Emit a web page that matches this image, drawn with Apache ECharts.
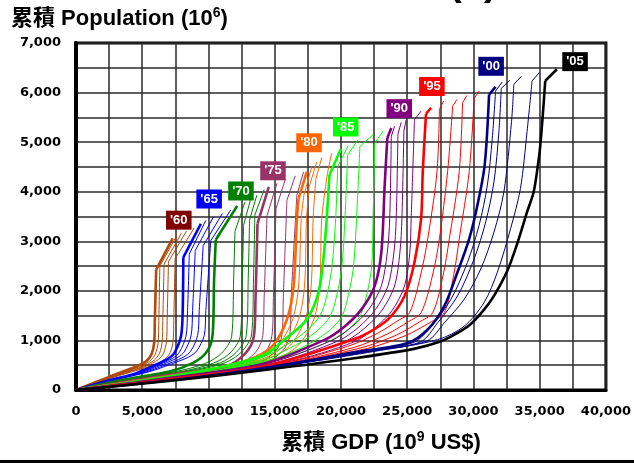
<!DOCTYPE html>
<html>
<head>
<meta charset="utf-8">
<style>
  html, body { margin: 0; padding: 0; background: #fff; }
  #chart { width: 634px; height: 464px; }
</style>
<script src="https://cdn.jsdelivr.net/npm/echarts@6/dist/echarts.min.js"></script>
</head>
<body>
<div id="chart"></div>
<script>
// Cumulative GDP (10^9 US$) vs cumulative population (10^6), one curve per year.
const c1960 = [[0,0],[2500,265],[4500,470],[5300,580],[5700,720],[5900,950],[5950,1400],[6050,2430],[7300,3060]];
const c1961 = [[0,0],[2500,250],[4800,470],[5600,590],[6000,730],[6200,960],[6250,1400],[6330,2500],[7600,3110]];
const c1962 = [[0,0],[2500,240],[5000,470],[5900,600],[6300,740],[6500,960],[6550,1400],[6650,2540],[7950,3160]];
const c1963 = [[0,0],[2500,235],[5300,480],[6200,610],[6620,750],[6830,980],[6880,1400],[6980,2590],[8350,3210]];
const c1964 = [[0,0],[2500,230],[5700,490],[6700,620],[7120,760],[7330,990],[7380,1400],[7480,2650],[8925,3270]];

const c1965 = [[0,0],[2500,195],[4550,340],[6300,543],[7000,640],[7425,746],[7925,1084],[8050,1559],[8100,2677],[9425,3354]];
const c1966 = [[0,0],[2500,190],[4800,350],[6600,550],[7350,650],[7800,760],[8300,1084],[8420,1600],[8550,2745],[9800,3422]];
const c1967 = [[0,0],[2500,185],[5000,355],[6900,555],[7700,660],[8170,770],[8680,1090],[8800,1600],[9000,2812],[10370,3490]];
const c1968 = [[0,0],[2500,180],[5300,365],[7300,565],[8150,670],[8650,780],[9180,1100],[9300,1600],[9600,2913],[11050,3560]];
const c1969 = [[0,0],[2500,175],[5600,375],[7700,575],[8600,680],[9120,790],[9680,1100],[9800,1600],[10175,3015],[11675,3630]];

const c1970 = [[0,0],[3500,205],[7050,372],[8800,543],[9800,746],[10300,1084],[10425,2236],[10550,3030],[12170,3714]];
const c1971 = [[0,0],[3500,200],[7500,370],[9800,540],[11000,746],[11750,1084],[11900,2236],[12000,3200],[12750,3795]];
const c1972 = [[0,0],[3500,195],[8000,375],[10400,545],[11650,750],[12400,1090],[12550,2240],[12650,3330],[13175,3840]];
const c1973 = [[0,0],[3500,190],[8400,380],[10900,550],[12100,760],[12850,1100],[13000,2250],[13100,3430],[13650,3930]];
const c1974 = [[0,0],[3500,185],[8800,385],[11300,555],[12500,770],[13250,1110],[13400,2260],[13500,3530],[14200,4040]];

const c1975 = [[0,0],[4000,180],[8000,340],[11300,474],[12800,746],[13425,1084],[13550,1830],[13700,3354],[14550,4100]];
const c1976 = [[0,0],[4000,176],[8500,345],[12000,480],[13550,760],[14100,1100],[14200,1850],[14420,3523],[15170,4168]];
const c1977 = [[0,0],[4000,172],[9000,350],[12700,490],[14300,770],[14800,1110],[14900,1870],[15100,3660],[15800,4250]];
const c1978 = [[0,0],[4000,168],[9500,355],[13400,500],[15050,780],[15550,1120],[15650,1890],[15920,3828],[16550,4320]];
const c1979 = [[0,0],[4000,164],[10000,360],[14000,510],[15600,790],[16150,1130],[16250,1900],[16670,3930],[17175,4400]];

const c1980 = [[0,0],[5000,200],[10000,410],[13050,610],[14800,880],[15920,1423],[16425,2100],[16675,3456],[16800,3863],[17420,4405]];
const c1981 = [[0,0],[5000,195],[10000,400],[13500,610],[15200,880],[16350,1423],[16800,2100],[17000,3456],[17200,3930],[17800,4507]];
const c1982 = [[0,0],[5000,190],[10000,395],[13900,610],[15650,880],[16800,1423],[17250,2100],[17400,3456],[17600,4100],[18170,4600]];
const c1983 = [[0,0],[5000,185],[10000,390],[14300,610],[16100,880],[17300,1423],[17750,2100],[17900,3456],[18100,4250],[18550,4690]];
const c1984 = [[0,0],[5000,180],[10000,385],[14800,610],[16700,880],[17950,1423],[18400,2100],[18550,3456],[19000,4400],[19300,4780]];

const c1985 = [[0,0],[5000,190],[10000,410],[13000,600],[14550,760],[16050,1084],[17420,1423],[18300,1966],[18675,2643],[18925,3456],[19130,4337],[20000,4865]];
const c1986 = [[0,0],[5000,185],[10000,400],[13500,600],[15500,850],[17200,1150],[18300,1450],[18800,1763],[19300,2440],[19600,3456],[19750,4507],[20550,4933]];
const c1987 = [[0,0],[5000,180],[10000,390],[14000,600],[16200,850],[18000,1150],[19100,1450],[19550,1763],[20050,2440],[20300,3456],[20500,4743],[21300,5050]];
const c1988 = [[0,0],[5000,175],[10000,380],[14500,600],[17000,850],[18900,1150],[20000,1450],[20425,1763],[20925,2440],[21175,3456],[21430,4914],[22425,5150]];
const c1989 = [[0,0],[5000,170],[10000,370],[15000,600],[18000,850],[20200,1150],[21350,1450],[21800,1763],[22300,2440],[22425,3456],[22550,4981],[23175,5220]];

const c1990 = [[0,0],[7000,240],[14000,520],[18800,1017],[20300,1287],[21550,1626],[22550,2100],[23050,2779],[23300,4133],[23500,5083],[23800,5286]];
const c1991 = [[0,0],[7000,235],[14500,540],[19300,1000],[20800,1270],[22100,1626],[23050,2100],[23500,2780],[23680,3456],[23800,5117],[24050,5320]];
const c1992 = [[0,0],[7000,230],[15000,550],[19800,990],[21300,1260],[22600,1620],[23550,2100],[24000,2780],[24170,3456],[24300,5164],[24550,5400]];
const c1993 = [[0,0],[7000,225],[15500,560],[20300,980],[21800,1250],[23100,1610],[24050,2100],[24450,2780],[24600,3456],[24750,5219],[24920,5450]];
const c1994 = [[0,0],[7000,220],[16000,570],[21000,970],[22500,1240],[23850,1600],[24800,2100],[25200,2780],[25300,3456],[25550,5455],[26050,5625]];

const c1995 = [[0,0],[7000,215],[14550,500],[20550,982],[22050,1153],[23550,1423],[24800,1897],[25550,2576],[26050,3456],[26175,4405],[26420,5570],[26800,5693]];
const c1996 = [[0,0],[7000,210],[15000,500],[20500,880],[22800,1150],[24300,1400],[25180,1560],[26000,2300],[26550,3050],[27250,4405],[27430,5660],[27750,5830]];
const c1997 = [[0,0],[7000,205],[15000,490],[21000,860],[23500,1130],[25100,1380],[26050,1560],[26900,2300],[27430,3050],[28050,4405],[28430,5727],[28750,5860]];
const c1998 = [[0,0],[7000,200],[15000,480],[21500,850],[24200,1110],[25900,1370],[26925,1560],[27700,2300],[28180,3050],[28925,4405],[29180,5794],[29500,5940]];
const c1999 = [[0,0],[7000,195],[15000,470],[22000,840],[24900,1100],[26700,1360],[27800,1560],[28500,2300],[28930,3050],[29680,4405],[30050,5880],[30430,6030]];

const c2000 = [[0,0],[7000,190],[14550,460],[21000,760],[25050,950],[26550,1220],[27800,1693],[28800,2380],[29680,3050],[30300,3727],[30850,4540],[31180,5960],[31670,6113]];
const c2001 = [[0,0],[7000,188],[14550,455],[21500,770],[25500,960],[26800,1287],[28300,1830],[29550,2576],[30425,3320],[31050,4133],[31425,5080],[31670,6030],[32170,6213]];
const c2002 = [[0,0],[7000,186],[14550,450],[22000,780],[26000,970],[27300,1356],[28800,1897],[30050,2643],[30925,3390],[31550,4200],[31925,5220],[32100,6085],[32750,6250]];
const c2003 = [[0,0],[7000,184],[14550,445],[22500,790],[26500,990],[27800,1356],[29300,1830],[30550,2440],[31550,3186],[32300,4000],[32875,5420],[33050,6166],[33620,6330]];
const c2004 = [[0,0],[7000,182],[14550,440],[23000,800],[27300,1017],[29300,1287],[30800,1763],[31800,2372],[32800,3253],[33550,4066],[34050,5219],[34425,6235],[35000,6410]];

const c2005 = [[0,0],[7000,180],[14550,415],[21000,640],[25500,830],[27550,982],[28800,1150],[29800,1330],[30800,1620],[31550,1900],[32550,2400],[33300,2950],[34050,3592],[34550,4000],[34900,4600],[35050,4946],[35250,5600],[35420,6235],[36300,6470]];

const years = [1960,1961,1962,1963,1964,1965,1966,1967,1968,1969,1970,1971,1972,1973,1974,1975,1976,1977,1978,1979,
               1980,1981,1982,1983,1984,1985,1986,1987,1988,1989,1990,1991,1992,1993,1994,1995,1996,1997,1998,1999,
               2000,2001,2002,2003,2004,2005];
const curves = [c1960,c1961,c1962,c1963,c1964,c1965,c1966,c1967,c1968,c1969,c1970,c1971,c1972,c1973,c1974,c1975,c1976,c1977,c1978,c1979,
                c1980,c1981,c1982,c1983,c1984,c1985,c1986,c1987,c1988,c1989,c1990,c1991,c1992,c1993,c1994,c1995,c1996,c1997,c1998,c1999,
                c2000,c2001,c2002,c2003,c2004,c2005];

// Year tags placed beside the highlighted (every fifth year) curves
const tagText = ["'60","'65","'70","'75","'80","'85","'90","'95","'00","'05"];
const tagGdp  = [7760, 10050, 12450, 14870, 17590, 20360, 24400, 26865, 31335, 37670];
const tagPop  = [3426, 3853, 4015, 4422, 4987, 5306, 5676, 6123, 6530, 6624];

// Tick label sets
const xTickLabels = [0, 5000, 10000, 15000, 20000, 25000, 30000, 35000, 40000];
const yTickLabels = [0, 1000, 2000, 3000, 4000, 5000, 6000, 7000];

// Half-decade colour groups
const lineColors = ['#B04A0A', '#0000FF', '#008000', '#993366', '#FF6600', '#00FF00', '#800080', '#FF0000', '#000080', '#000000'];
const tagColors  = ['#800000', '#0000FF', '#008000', '#993366', '#FF6600', '#00FF00', '#800080', '#FF0000', '#000080', '#000000'];

const LATIN = "'Liberation Sans', Arial, 'Noto Sans CJK TC', sans-serif";
const TICK_FONT = "'DejaVu Sans', 'Liberation Sans', sans-serif";

const series = [];
years.forEach(function (yr, i) {
  const group = Math.floor((yr - 1960) / 5);
  const major = (yr % 5 === 0);
  const pts = curves[i];
  const style = { color: lineColors[group], width: major ? 2.6 : 1 };
  // rising body of the curve, drawn smooth
  series.push({
    type: 'line', name: String(yr), data: pts.slice(0, pts.length - 1),
    smooth: 0.3, showSymbol: false, symbol: 'none', silent: true, animation: false,
    z: major ? 3 : 2, lineStyle: style
  });
  // short straight tail past the top kink
  series.push({
    type: 'line', name: String(yr) + ' tail', data: pts.slice(pts.length - 2),
    showSymbol: false, symbol: 'none', silent: true, animation: false,
    z: major ? 3 : 2, lineStyle: style
  });
});

series.push({
  type: 'scatter',
  silent: true,
  animation: false,
  symbolSize: 0,
  itemStyle: { color: 'rgba(0,0,0,0)', opacity: 1 },
  z: 5,
  data: tagText.map(function (t, i) {
    return {
      value: [tagGdp[i], tagPop[i]],
      label: {
        show: true,
        position: 'inside',
        formatter: t,
        color: '#fff',
        opacity: 1,
        fontFamily: LATIN,
        fontWeight: 'bold',
        fontSize: 13,
        lineHeight: 13,
        backgroundColor: tagColors[i],
        padding: [3, 4, 3, 4]
      }
    };
  })
});

const chart = echarts.init(document.getElementById('chart'), null, { renderer: 'canvas' });
chart.setOption({
  animation: false,
  backgroundColor: '#fff',
  grid: { left: 76, top: 43, width: 533, height: 347, show: true, borderColor: '#000', borderWidth: 3, backgroundColor: 'transparent' },
  xAxis: {
    type: 'value', min: 0, max: 40000, interval: 2500,
    axisLine: { show: true, onZero: false, lineStyle: { color: '#000', width: 3 } },
    axisTick: { show: false },
    splitLine: { show: true, lineStyle: { color: '#2a2a2a', width: 1.5 } },
    axisLabel: {
      showMinLabel: true, showMaxLabel: true,
      margin: 15, color: '#000', fontFamily: TICK_FONT, fontWeight: 'bold', fontSize: 13,
      formatter: function (v) { return xTickLabels.indexOf(v) >= 0 ? v.toLocaleString('en-US') : ''; }
    }
  },
  yAxis: {
    type: 'value', min: 0, max: 7000, interval: 500,
    axisLine: { show: true, onZero: false, lineStyle: { color: '#000', width: 4 } },
    axisTick: { show: false },
    splitLine: { show: true, lineStyle: { color: '#2a2a2a', width: 1.5 } },
    axisLabel: {
      showMinLabel: true, showMaxLabel: true,
      margin: 15, color: '#000', fontFamily: TICK_FONT, fontWeight: 'bold', fontSize: 13,
      formatter: function (v) { return yTickLabels.indexOf(v) >= 0 ? v.toLocaleString('en-US') : ''; }
    }
  },
  graphic: [
    {
      type: 'text', left: 11, top: 6, silent: true,
      style: {
        text: '{a|累積 Population (10}{s|6}{a|)}',
        rich: {
          a: { fontFamily: LATIN, fontWeight: 'bold', fontSize: 22, lineHeight: 25, fill: '#000' },
          s: { fontFamily: LATIN, fontWeight: 'bold', fontSize: 14, lineHeight: 25, verticalAlign: 'top', fill: '#000' }
        }
      }
    },
    {
      type: 'text', silent: true,
      style: {
        x: 381, y: 443, align: 'center', verticalAlign: 'middle',
        text: '{a|累積 GDP (10}{s|9}{a| US$)}',
        rich: {
          a: { fontFamily: LATIN, fontWeight: 'bold', fontSize: 22, lineHeight: 25, fill: '#000' },
          s: { fontFamily: LATIN, fontWeight: 'bold', fontSize: 14, lineHeight: 25, verticalAlign: 'top', fill: '#000' }
        }
      }
    },
    {
      type: 'text', silent: true,
      style: {
        x: 473, y: 4, align: 'center', verticalAlign: 'bottom',
        text: '(2)', fontFamily: LATIN, fontWeight: 'bold', fontSize: 40, fill: '#000'
      }
    },
    {
      type: 'rect', silent: true,
      shape: { x: 0, y: 460, width: 634, height: 3 },
      style: { fill: '#000' }
    }
  ],
  series: series
});
</script>
</body>
</html>
